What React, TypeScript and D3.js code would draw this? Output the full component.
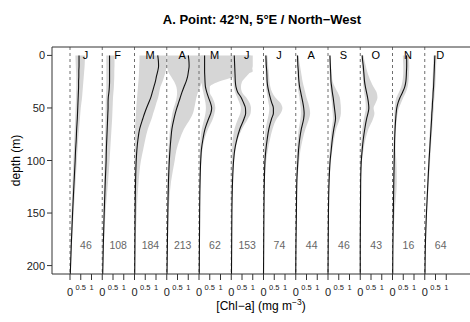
import React from "react";
import * as d3 from "d3";

const W = 470;
const H = 322;

const MONTHS = ["J", "F", "M", "A", "M", "J", "J", "A", "S", "O", "N", "D"];
const COUNTS = [46, 108, 184, 213, 62, 153, 74, 44, 46, 43, 16, 64];
const DEPTHS = [0, 5, 10, 15, 20, 25, 30, 35, 40, 45, 50, 55, 60, 70, 80, 90, 100, 120, 150, 180, 210];
const Y_TICKS = [0, 50, 100, 150, 200];
const X_TICKS = [0, 0.5, 1];
const PANEL_STEP = 1.5;

// mean profiles (mg m-3), one row per month
const MEAN = [
  [0.42, 0.42, 0.42, 0.41, 0.41, 0.40, 0.40, 0.39, 0.38, 0.37, 0.36, 0.35, 0.34, 0.31, 0.29, 0.26, 0.24, 0.19, 0.12, 0.06, 0.01],
  [0.34, 0.34, 0.34, 0.34, 0.34, 0.34, 0.33, 0.31, 0.28, 0.27, 0.27, 0.26, 0.25, 0.23, 0.21, 0.19, 0.18, 0.14, 0.09, 0.05, 0.02],
  [1.08, 1.11, 1.12, 1.08, 1.02, 0.97, 0.90, 0.83, 0.76, 0.66, 0.56, 0.47, 0.39, 0.24, 0.16, 0.11, 0.08, 0.05, 0.03, 0.02, 0.01],
  [1.00, 1.03, 1.04, 1.01, 0.97, 0.90, 0.80, 0.71, 0.63, 0.55, 0.47, 0.40, 0.34, 0.24, 0.19, 0.15, 0.12, 0.08, 0.05, 0.03, 0.01],
  [0.26, 0.26, 0.26, 0.26, 0.27, 0.28, 0.30, 0.36, 0.44, 0.53, 0.59, 0.55, 0.45, 0.28, 0.18, 0.11, 0.08, 0.05, 0.03, 0.02, 0.01],
  [0.14, 0.15, 0.16, 0.17, 0.18, 0.19, 0.22, 0.30, 0.46, 0.57, 0.66, 0.67, 0.60, 0.40, 0.26, 0.16, 0.11, 0.06, 0.03, 0.02, 0.01],
  [0.11, 0.12, 0.13, 0.15, 0.16, 0.17, 0.20, 0.25, 0.31, 0.38, 0.46, 0.46, 0.38, 0.25, 0.17, 0.11, 0.07, 0.04, 0.02, 0.01, 0.00],
  [0.08, 0.09, 0.10, 0.12, 0.13, 0.15, 0.18, 0.23, 0.28, 0.33, 0.37, 0.39, 0.37, 0.26, 0.18, 0.13, 0.10, 0.05, 0.03, 0.01, 0.00],
  [0.09, 0.10, 0.11, 0.12, 0.13, 0.14, 0.17, 0.20, 0.24, 0.27, 0.30, 0.33, 0.35, 0.27, 0.20, 0.15, 0.10, 0.05, 0.02, 0.01, 0.00],
  [0.09, 0.11, 0.14, 0.16, 0.18, 0.20, 0.24, 0.29, 0.34, 0.38, 0.40, 0.36, 0.30, 0.21, 0.14, 0.09, 0.05, 0.02, 0.01, 0.00, 0.00],
  [0.65, 0.66, 0.66, 0.65, 0.64, 0.62, 0.57, 0.47, 0.35, 0.26, 0.20, 0.17, 0.15, 0.12, 0.10, 0.09, 0.08, 0.06, 0.04, 0.02, 0.01],
  [0.47, 0.46, 0.45, 0.44, 0.43, 0.42, 0.41, 0.39, 0.38, 0.36, 0.35, 0.33, 0.32, 0.29, 0.26, 0.23, 0.20, 0.15, 0.08, 0.03, 0.01],
];

// lower bound of the shaded envelope
const LOW = [
  [0.25, 0.26, 0.27, 0.28, 0.29, 0.29, 0.29, 0.28, 0.28, 0.27, 0.26, 0.25, 0.24, 0.22, 0.20, 0.18, 0.16, 0.12, 0.07, 0.03, 0.00],
  [0.19, 0.19, 0.19, 0.19, 0.19, 0.19, 0.19, 0.18, 0.17, 0.16, 0.16, 0.15, 0.15, 0.14, 0.13, 0.12, 0.11, 0.08, 0.05, 0.02, 0.00],
  [0.23, 0.23, 0.22, 0.21, 0.20, 0.18, 0.16, 0.14, 0.12, 0.10, 0.08, 0.07, 0.05, 0.03, 0.02, 0.01, 0.00, 0.00, 0.00, 0.00, 0.00],
  [0.02, 0.02, 0.02, 0.06, 0.20, 0.35, 0.45, 0.48, 0.46, 0.40, 0.32, 0.26, 0.22, 0.15, 0.11, 0.08, 0.06, 0.03, 0.01, 0.00, 0.00],
  [0.10, 0.10, 0.10, 0.10, 0.10, 0.12, 0.15, 0.20, 0.25, 0.30, 0.32, 0.30, 0.25, 0.13, 0.07, 0.04, 0.02, 0.01, 0.00, 0.00, 0.00],
  [0.05, 0.05, 0.06, 0.07, 0.08, 0.10, 0.12, 0.18, 0.28, 0.38, 0.45, 0.42, 0.32, 0.15, 0.07, 0.04, 0.02, 0.01, 0.00, 0.00, 0.00],
  [0.06, 0.07, 0.08, 0.09, 0.10, 0.11, 0.12, 0.15, 0.19, 0.23, 0.27, 0.25, 0.20, 0.10, 0.05, 0.03, 0.01, 0.00, 0.00, 0.00, 0.00],
  [0.04, 0.05, 0.06, 0.07, 0.08, 0.09, 0.10, 0.13, 0.17, 0.20, 0.23, 0.24, 0.22, 0.14, 0.09, 0.06, 0.04, 0.02, 0.01, 0.00, 0.00],
  [0.05, 0.05, 0.06, 0.07, 0.08, 0.09, 0.10, 0.13, 0.15, 0.18, 0.20, 0.22, 0.23, 0.17, 0.12, 0.08, 0.05, 0.02, 0.01, 0.00, 0.00],
  [0.05, 0.06, 0.08, 0.10, 0.12, 0.13, 0.15, 0.18, 0.22, 0.25, 0.26, 0.22, 0.17, 0.10, 0.06, 0.03, 0.01, 0.00, 0.00, 0.00, 0.00],
  [0.48, 0.49, 0.50, 0.50, 0.49, 0.46, 0.40, 0.30, 0.18, 0.13, 0.10, 0.09, 0.08, 0.06, 0.05, 0.04, 0.03, 0.02, 0.01, 0.00, 0.00],
  [0.40, 0.40, 0.39, 0.38, 0.37, 0.36, 0.35, 0.34, 0.33, 0.31, 0.30, 0.28, 0.27, 0.24, 0.21, 0.19, 0.16, 0.12, 0.06, 0.02, 0.00],
];

// upper bound of the shaded envelope
const HIGH = [
  [0.70, 0.69, 0.68, 0.66, 0.64, 0.62, 0.60, 0.58, 0.56, 0.53, 0.50, 0.48, 0.46, 0.42, 0.38, 0.35, 0.32, 0.26, 0.17, 0.09, 0.03],
  [0.57, 0.57, 0.57, 0.56, 0.56, 0.55, 0.54, 0.52, 0.50, 0.49, 0.48, 0.47, 0.46, 0.43, 0.40, 0.37, 0.34, 0.27, 0.15, 0.08, 0.03],
  [1.50, 1.50, 1.50, 1.45, 1.38, 1.30, 1.20, 1.15, 1.10, 1.02, 0.95, 0.87, 0.80, 0.62, 0.50, 0.40, 0.30, 0.19, 0.10, 0.05, 0.02],
  [2.00, 2.00, 2.00, 1.90, 1.80, 1.65, 1.55, 1.45, 1.38, 1.33, 1.28, 1.22, 1.10, 0.80, 0.60, 0.45, 0.37, 0.20, 0.09, 0.04, 0.02],
  [2.40, 2.42, 2.45, 2.50, 1.70, 0.90, 0.50, 0.50, 0.62, 0.72, 0.76, 0.72, 0.65, 0.42, 0.25, 0.16, 0.11, 0.06, 0.03, 0.02, 0.01],
  [1.00, 1.00, 1.00, 0.90, 0.70, 0.50, 0.45, 0.50, 0.70, 0.85, 0.92, 0.90, 0.78, 0.50, 0.30, 0.20, 0.13, 0.07, 0.03, 0.02, 0.01],
  [0.18, 0.20, 0.22, 0.24, 0.26, 0.28, 0.32, 0.40, 0.55, 0.78, 0.88, 0.80, 0.62, 0.42, 0.30, 0.20, 0.13, 0.06, 0.03, 0.02, 0.01],
  [0.14, 0.16, 0.20, 0.24, 0.28, 0.32, 0.38, 0.44, 0.50, 0.58, 0.64, 0.67, 0.62, 0.45, 0.32, 0.22, 0.16, 0.08, 0.04, 0.02, 0.01],
  [0.12, 0.13, 0.14, 0.16, 0.18, 0.22, 0.32, 0.45, 0.55, 0.58, 0.60, 0.60, 0.55, 0.38, 0.28, 0.20, 0.14, 0.07, 0.03, 0.01, 0.00],
  [0.15, 0.20, 0.26, 0.32, 0.40, 0.50, 0.62, 0.76, 0.80, 0.72, 0.62, 0.66, 0.60, 0.38, 0.24, 0.15, 0.08, 0.03, 0.01, 0.00, 0.00],
  [0.76, 0.77, 0.78, 0.77, 0.76, 0.74, 0.70, 0.62, 0.50, 0.40, 0.30, 0.24, 0.20, 0.16, 0.13, 0.14, 0.18, 0.20, 0.10, 0.03, 0.01],
  [0.55, 0.54, 0.53, 0.52, 0.51, 0.50, 0.49, 0.47, 0.45, 0.43, 0.42, 0.40, 0.38, 0.35, 0.31, 0.28, 0.25, 0.19, 0.10, 0.04, 0.01],
];

const FONT = "'Liberation Sans', Arial, Helvetica, sans-serif";

export default function App() {
  const left = 52;
  const top = 47;
  const bottom = 274;
  const right = 480;

  // one value unit = 21.5 px; panels are offset by PANEL_STEP units
  const x = d3.scaleLinear().domain([0, 1]).range([70, 91.5]);
  const y = d3.scaleLinear().domain([-8, 208]).range([top, bottom]);

  const area = (lo: number[], hi: number[], off: number) =>
    d3
      .area<number>()
      .y((_, i) => y(DEPTHS[i]))
      .x0((_, i) => x(lo[i] + off))
      .x1((_, i) => x(hi[i] + off))
      .curve(d3.curveMonotoneY)(DEPTHS) || "";

  const line = (m: number[], off: number) =>
    d3
      .line<number>()
      .y((_, i) => y(DEPTHS[i]))
      .x((_, i) => x(m[i] + off))
      .curve(d3.curveMonotoneY)(DEPTHS) || "";

  return (
    <svg
      width={W}
      height={H}
      style={{ position: "absolute", left: 0, top: 0, background: "#fff" }}
      fontFamily={FONT}
    >
      <defs>
        <clipPath id="plotClip">
          <rect x={left} y={top} width={right - left} height={bottom - top} />
        </clipPath>
      </defs>

      <text x={262} y={24} textAnchor="middle" fontSize={13} fontWeight="bold">
        A. Point: 42°N, 5°E / North−West
      </text>

      <g clipPath="url(#plotClip)">
        {MONTHS.map((_, i) => (
          <path key={"a" + i} d={area(LOW[i], HIGH[i], i * PANEL_STEP)} fill="#d6d6d6" stroke="none" />
        ))}
        {MONTHS.map((_, i) => (
          <line
            key={"z" + i}
            x1={x(i * PANEL_STEP)}
            x2={x(i * PANEL_STEP)}
            y1={top}
            y2={bottom}
            stroke="#6e6e6e"
            strokeWidth={1}
            strokeDasharray="3,3"
          />
        ))}
        {MONTHS.map((_, i) => (
          <path key={"l" + i} d={line(MEAN[i], i * PANEL_STEP)} fill="none" stroke="#111" strokeWidth={1.1} />
        ))}
      </g>

      {/* frame */}
      <path d={`M${right},${top}H${left}V${bottom}H${right}`} fill="none" stroke="#333" strokeWidth={1} />

      {/* month labels */}
      {MONTHS.map((m, i) => (
        <text key={"m" + i} x={x(i * PANEL_STEP + 0.72)} y={59} textAnchor="middle" fontSize={11}>
          {m}
        </text>
      ))}

      {/* counts */}
      {COUNTS.map((c, i) => (
        <text key={"c" + i} x={x(i * PANEL_STEP + 0.74)} y={249} textAnchor="middle" fontSize={10.5} fill="#666">
          {c}
        </text>
      ))}

      {/* y axis */}
      {Y_TICKS.map((t) => (
        <g key={"y" + t}>
          <line x1={left - 5} x2={left} y1={y(t)} y2={y(t)} stroke="#333" />
          <text x={left - 7} y={y(t) + 4} textAnchor="end" fontSize={11} fill="#222">
            {t}
          </text>
        </g>
      ))}
      <text
        transform={`translate(20,${(top + bottom) / 2}) rotate(-90)`}
        textAnchor="middle"
        fontSize={12}
      >
        depth (m)
      </text>

      {/* x axes per panel */}
      {MONTHS.map((_, i) =>
        X_TICKS.map((t) => (
          <g key={"xt" + i + "-" + t}>
            <line
              x1={x(i * PANEL_STEP + t)}
              x2={x(i * PANEL_STEP + t)}
              y1={bottom}
              y2={bottom + 6}
              stroke="#333"
            />
            {t === 0 ? (
              <text x={x(i * PANEL_STEP + t)} y={295.5} textAnchor="middle" fontSize={11} fill="#222">
                0
              </text>
            ) : (
              <text x={x(i * PANEL_STEP + t)} y={290} textAnchor="middle" fontSize={7.5} fill="#222">
                {t}
              </text>
            )}
          </g>
        ))
      )}

      <text x={261} y={310} textAnchor="middle" fontSize={12}>
        [Chl−a] (mg m
        <tspan dy={-5} fontSize={8.5}>
          −3
        </tspan>
        <tspan dy={5}>)</tspan>
      </text>
    </svg>
  );
}
